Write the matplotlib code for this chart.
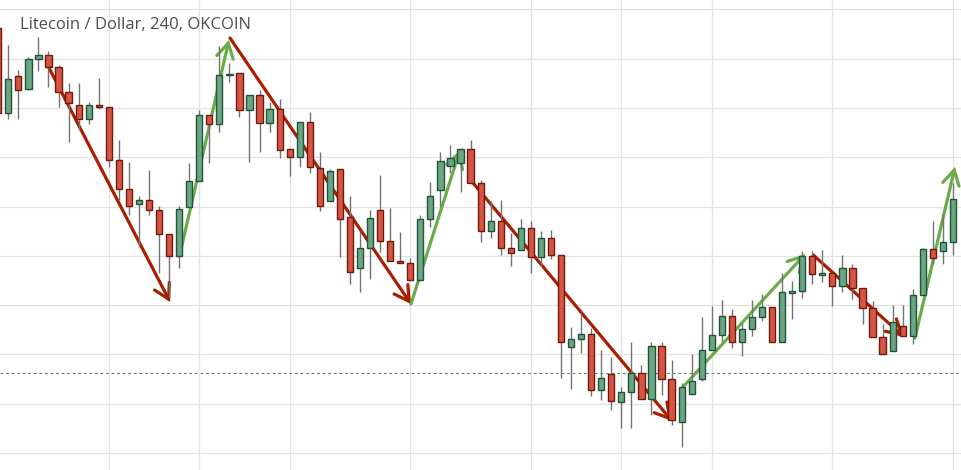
import matplotlib
matplotlib.use("Agg")
import matplotlib.pyplot as plt
from matplotlib.patches import ArrowStyle
import numpy as np

# ---- data (candle index, arbitrary price units) ----
idx = list(range(-1, 95))
opens = [442, 357, 394, 381, 411, 415, 403, 378, 365, 351, 365, 363, 310, 281, 266, 270, 260, 236, 214, 263,
         289, 355, 346, 395, 397, 360, 375, 347, 361, 321, 313, 348, 302, 269, 301, 253, 202, 222, 260, 229,
         209, 207, 190, 251, 280, 304, 307, 321, 287, 239, 249, 222, 220, 242, 213, 232, 215, 123, 131, 136,
         80, 96, 68, 78, 97, 71, 124, 91, 48, 76, 91, 120, 135, 154, 128, 141, 153, 163, 128, 177.5,
         179, 214, 195, 197, 184, 202, 182, 162, 133, 119, 144, 134, 175, 221, 219, 228]
highs = [446, 425, 400, 413, 433, 419, 405, 387, 387, 368, 392, 363, 330, 308, 274, 300, 264, 236, 264, 307,
         360, 355, 424, 407, 397, 375, 380, 368, 371, 321, 348, 358, 318, 301, 301, 274, 239, 260, 295, 262,
         238, 212, 255, 288, 318, 325, 322, 330, 290, 269, 270, 237, 251, 249, 239, 240, 215, 143, 157, 142,
         120, 113, 83, 128, 105, 128, 128, 110, 87, 116, 153, 164, 170, 161, 147, 170, 176, 163, 197, 189,
         219, 219, 220, 197, 215, 206, 182, 169, 146, 165, 165, 181, 222, 249, 256, 287]
lows = [355, 351, 351, 380, 399, 383, 363, 328, 340, 346, 361, 303, 270, 255, 223, 255, 197, 173, 202, 263,
        289, 307, 338, 388, 353, 308, 318, 338, 312, 294, 303, 297, 259, 269, 213, 186, 178, 191, 218, 209,
        207, 190, 190, 243, 264, 297, 278, 287, 228, 232, 215, 204, 220, 197, 204, 211, 92, 81, 117, 74,
        70, 60, 42, 42, 71, 55, 75, 45, 23, 76, 89, 120, 128, 122, 114, 134, 149, 128, 128, 151,
        172, 186, 188, 164, 178, 171, 146, 133, 116, 119, 134, 126, 175, 206, 206, 215]
closes = [357, 391, 380, 411, 415, 403, 378, 367, 351, 365, 363, 310, 281, 264, 270, 260, 236, 214, 261, 289,
          355, 346, 395, 396, 360, 375, 347, 361, 320, 313, 348, 303, 264, 299, 251, 198, 222, 252, 229, 209,
          207, 190, 251, 274, 309, 312, 321, 287, 239, 249, 222, 217, 242, 213, 232, 215, 128, 131, 136, 80,
          92, 69, 78, 97, 71, 124, 91, 50, 83, 89, 120, 135, 154, 128, 141, 153, 163, 128, 178, 178.5,
          214, 196, 197, 184, 202, 182, 162, 133, 116, 148, 134, 175, 221, 212, 228, 271]

# trend arrows: (start index, start price, end index, end price)
red_arrows = [(3.85, 406, 16.1, 168), (22.06, 432, 40.07, 166), (46.0, 290, 66.04, 49), (80.1, 215, 89.13, 133)]
green_arrows = [(17.2, 221, 21.96, 430), (40.07, 166, 44.95, 320), (67.13, 83, 79.3, 216), (90.22, 132, 94.2, 303)]

ref_level = 97
title = "Litecoin / Dollar, 240, OKCOIN"

# ---- style ----
UP_FACE, UP_EDGE = "#6ba583", "#225437"
DN_FACE, DN_EDGE = "#d75442", "#6f1a0f"
WICK = "#737375"
ARROW_RED, ARROW_GREEN = "#a91e00", "#6aac4a"

fig = plt.figure(figsize=(9.62, 4.70), dpi=100)
ax = fig.add_axes([0, 0, 1, 1])
ax.set_xlim(-0.826, 94.9)
ax.set_ylim(0, 470)
for s in ax.spines.values():
    s.set_visible(False)
ax.set_xticks([10, 19, 28, 40, 52, 61, 70, 82, 94])
ax.set_yticks(np.arange(17, 470, 49.3))
ax.tick_params(length=0, labelbottom=False, labelleft=False)
ax.grid(True, color="#e3e3e3", lw=0.9, zorder=0)
ax.set_axisbelow(True)

ax.axhline(ref_level, color="#4f8a6e", lw=0.8, linestyle=(0, (2.5, 2.5)), zorder=1)

style = ArrowStyle("->", head_length=10.5, head_width=6)
for arrows, col in ((red_arrows, ARROW_RED), (green_arrows, ARROW_GREEN)):
    for x0, y0, x1, y1 in arrows:
        ax.annotate("", xy=(x1, y1), xytext=(x0, y0),
                    arrowprops=dict(arrowstyle=style, color=col, lw=2.3,
                                    shrinkA=0, shrinkB=0, mutation_scale=1,
                                    capstyle="round", joinstyle="miter"),
                    zorder=2)

o = np.array(opens, float)
c = np.array(closes, float)
h = np.array(highs, float)
l = np.array(lows, float)
x = np.array(idx, float)
up = c >= o

ax.vlines(x, l, h, color=WICK, lw=1.0, zorder=3)
body_h = np.where(np.abs(c - o) < 1.2, np.sign(c - o + 1e-9) * 1.2, c - o)
ax.bar(x[up], body_h[up], bottom=o[up], width=0.62, color=UP_FACE, edgecolor=UP_EDGE, lw=1.0, zorder=4)
ax.bar(x[~up], body_h[~up], bottom=o[~up], width=0.62, color=DN_FACE, edgecolor=DN_EDGE, lw=1.0, zorder=4)

ax.text(0.021, 0.947, title, transform=ax.transAxes, ha="left", va="center",
        fontsize=12, color="#4d4d4d", family=["Open Sans", "DejaVu Sans"], zorder=6)

fig.savefig("out.png", dpi=100)
